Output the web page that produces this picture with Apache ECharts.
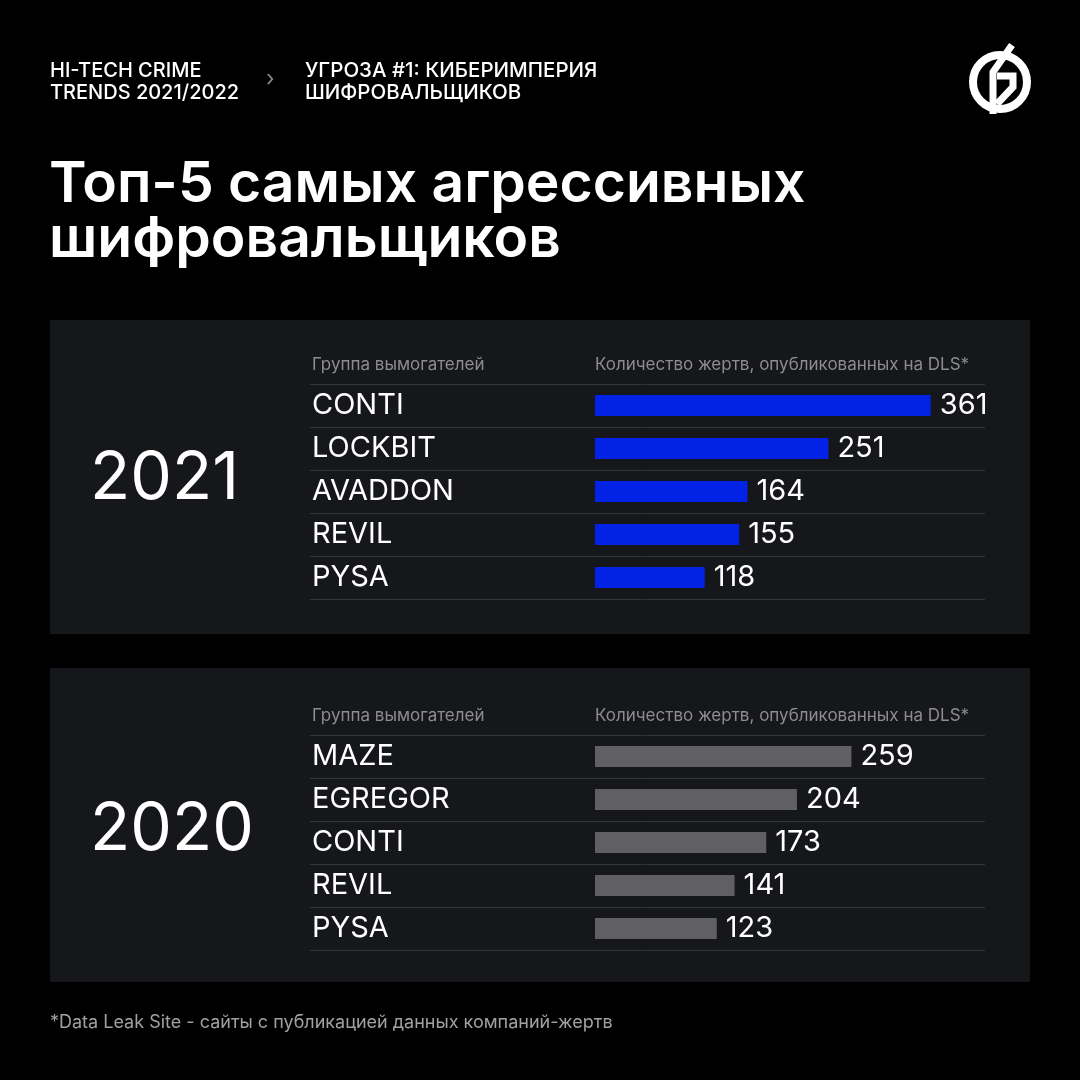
<!DOCTYPE html>
<html>
<head>
<meta charset="utf-8">
<script src="https://cdn.jsdelivr.net/npm/echarts@6/dist/echarts.min.js"></script>
<style>
  html, body { margin: 0; padding: 0; background: #000; }
  #chart { width: 1080px; height: 1080px; }
</style>
</head>
<body>
<div id="chart"></div>
<script>
// ---- data ----
const groups2021 = ['CONTI', 'LOCKBIT', 'AVADDON', 'REVIL', 'PYSA'];
const victims2021 = [361, 251, 164, 155, 118];
const groups2020 = ['MAZE', 'EGREGOR', 'CONTI', 'REVIL', 'PYSA'];
const victims2020 = [259, 204, 173, 141, 123];
const headerLeft = 'HI-TECH CRIME\nTRENDS 2021/2022';
const headerRight = 'УГРОЗА #1: КИБЕРИМПЕРИЯ\nШИФРОВАЛЬЩИКОВ';
const title = 'Топ-5 самых агрессивных\nшифровальщиков';
const colGroup = 'Группа вымогателей';
const colCount = 'Количество жертв, опубликованных на DLS*';
const footnote = '*Data Leak Site - сайты с публикацией данных компаний-жертв';

// ---- layout ----
const FONT = 'Inter, "Noto Sans", sans-serif';
const gridLeft = 310, gridWidth = 675, barStart = 595;
// pixels per unit for each panel
const scale2021 = 0.93, scale2020 = 0.99;
function axisRange(pxPerUnit) {
  return {
    min: -(barStart - gridLeft) / pxPerUnit,
    max: (gridLeft + gridWidth - barStart) / pxPerUnit
  };
}
const r21 = axisRange(scale2021), r20 = axisRange(scale2020);

function yAxisFor(data, gridIndex) {
  return {
    type: 'category', gridIndex: gridIndex, data: data, inverse: true,
    axisLine: { show: false, onZero: false }, axisTick: { show: false },
    splitLine: { show: true, lineStyle: { color: '#34353a', width: 1 } },
    axisLabel: { inside: true, align: 'left', margin: 2, color: '#ffffff',
      fontSize: 29, fontFamily: FONT, fontWeight: 400 }
  };
}
function seriesFor(values, idx, color) {
  return {
    type: 'bar', xAxisIndex: idx, yAxisIndex: idx, data: values,
    barWidth: 21, itemStyle: { color: color }, z: 3,
    label: { show: true, position: 'right', distance: 9, color: '#ffffff',
      fontSize: 29, fontFamily: FONT, fontWeight: 400 }
  };
}

const chart = echarts.init(document.getElementById('chart'));
chart.setOption({
  backgroundColor: '#000000',
  animation: false,
  grid: [
    { left: gridLeft, top: 384, width: gridWidth, height: 215 },
    { left: gridLeft, top: 735, width: gridWidth, height: 215 }
  ],
  xAxis: [
    { type: 'value', gridIndex: 0, min: r21.min, max: r21.max, show: false, splitLine: { show: false } },
    { type: 'value', gridIndex: 1, min: r20.min, max: r20.max, show: false, splitLine: { show: false } }
  ],
  yAxis: [yAxisFor(groups2021, 0), yAxisFor(groups2020, 1)],
  series: [seriesFor(victims2021, 0, '#0223e6'), seriesFor(victims2020, 1, '#5f5f64')],
  graphic: [
    { type: 'rect', z: -10, shape: { x: 50, y: 320, width: 980, height: 314 }, style: { fill: '#16171b' } },
    { type: 'rect', z: -10, shape: { x: 50, y: 668, width: 980, height: 314 }, style: { fill: '#16171b' } },
    { type: 'text', left: 50, top: 60, style: { text: headerLeft, fill: '#fff', font: '500 20px ' + FONT, lineHeight: 22 } },
    { type: 'text', left: 266, top: 68, style: { text: '›', fill: '#8a8a8e', font: '400 22px ' + FONT } },
    { type: 'text', left: 305, top: 60, style: { text: headerRight, fill: '#fff', font: '500 20.5px ' + FONT, lineHeight: 22 } },
    { type: 'text', left: 49, top: 156, style: { text: title, fill: '#fff', font: '600 57px ' + FONT, lineHeight: 55 } },
    { type: 'text', left: 90, top: 446, style: { text: '2021', fill: '#fff', font: '400 66px ' + FONT } },
    { type: 'text', left: 90, top: 797, style: { text: '2020', fill: '#fff', font: '400 66px ' + FONT } },
    { type: 'text', left: 312, top: 356, style: { text: colGroup, fill: '#8c8c91', font: '400 17px ' + FONT } },
    { type: 'text', left: 595, top: 356, style: { text: colCount, fill: '#8c8c91', font: '400 17px ' + FONT } },
    { type: 'text', left: 312, top: 707, style: { text: colGroup, fill: '#8c8c91', font: '400 17px ' + FONT } },
    { type: 'text', left: 595, top: 707, style: { text: colCount, fill: '#8c8c91', font: '400 17px ' + FONT } },
    { type: 'text', left: 50, top: 1014, style: { text: footnote, fill: '#a0a0a5', font: '400 18px ' + FONT } },
    // logo
    { type: 'circle', shape: { cx: 1000, cy: 82, r: 27 }, style: { fill: 'none', stroke: '#fff', lineWidth: 8 } },
    { type: 'polyline', shape: { points: [[1012, 45], [993, 72], [993, 114]] }, style: { fill: 'none', stroke: '#fff', lineWidth: 7, lineJoin: 'miter' } },
    { type: 'polyline', shape: { points: [[997, 76], [1013, 76], [1013, 87], [997, 104]] }, style: { fill: 'none', stroke: '#fff', lineWidth: 7, lineJoin: 'miter' } }
  ]
});
</script>
</body>
</html>
